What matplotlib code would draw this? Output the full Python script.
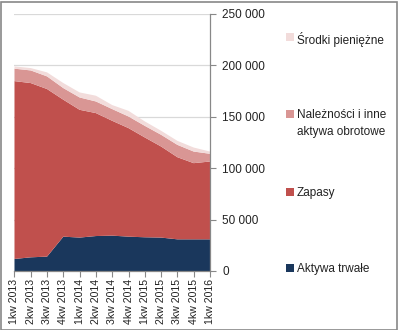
import matplotlib
matplotlib.use("Agg")
from matplotlib import pyplot as plt
from matplotlib.patches import Rectangle
import numpy as np

quarters = ["1kw 2013", "2kw 2013", "3kw 2013", "4kw 2013",
            "1kw 2014", "2kw 2014", "3kw 2014", "4kw 2014",
            "1kw 2015", "2kw 2015", "3kw 2015", "4kw 2015", "1kw 2016"]

# stacked layers (thousand PLN)
aktywa_trwale = [11.7, 13.3, 14.0, 33.4, 32.5, 34.0, 34.4, 33.4, 32.8, 32.5, 30.8, 30.8, 30.8]
zapasy = [173.0, 169.5, 163.0, 133.2, 124.3, 119.6, 111.7, 105.6, 97.1, 88.6, 79.9, 74.1, 75.7]
naleznosci = [12.1, 12.3, 12.3, 11.3, 12.0, 11.3, 11.4, 11.3, 11.3, 11.4, 12.0, 11.3, 7.5]
srodki = [2.2, 2.3, 3.9, 4.9, 4.9, 5.6, 3.9, 5.5, 4.3, 3.9, 3.9, 3.9, 2.2]

names = ["Aktywa trwałe", "Zapasy", "Należności i inne\naktywa obrotowe", "Środki pieniężne"]
colors = ["#1a375c", "#c0504d", "#d99694", "#f2dcdb"]

plt.rcParams["font.family"] = ["Liberation Sans", "DejaVu Sans"]

fig = plt.figure(figsize=(3.98, 3.30), dpi=100)
ax = fig.add_axes([0.0364, 0.1788, 0.4912, 0.7788])

x = np.arange(len(quarters))
series = [np.array(s) * 1000 for s in (aktywa_trwale, zapasy, naleznosci, srodki)]
ax.stackplot(x, *series, colors=colors, linewidth=0)

ax.set_xlim(0, len(quarters) - 1)
ax.set_ylim(0, 250000)
ax.set_yticks(np.arange(0, 250001, 50000))
ax.set_yticklabels([f"{v:,}".replace(",", " ") for v in range(0, 250001, 50000)],
                   fontsize=8.5, color="#222222")
ax.yaxis.tick_right()
ax.grid(axis="y", color="#d9d9d9", linewidth=0.9)
ax.set_axisbelow(True)

ax.set_xticks(x)
ax.set_xticklabels(quarters, rotation=90, fontsize=7.6, color="#222222")
ax.tick_params(axis="x", length=4, color="#888888", direction="out", pad=2)
ax.tick_params(axis="y", length=4, color="#888888", direction="out", pad=5)

for side in ("top", "left"):
    ax.spines[side].set_visible(False)
for side in ("right", "bottom"):
    ax.spines[side].set_color("#888888")
    ax.spines[side].set_linewidth(0.9)

# legend drawn by hand on the right side: (label, colour, y of first line in px)
legend_rows = [(names[3], colors[3], 37), (names[2], colors[2], 114),
               (names[1], colors[1], 192), (names[0], colors[0], 268)]
for label, col, ypx in legend_rows:
    yf = 1 - ypx / 330
    fig.patches.append(Rectangle((286 / 398, yf - 4 / 330), 8 / 398, 8 / 330,
                                 transform=fig.transFigure, facecolor=col,
                                 edgecolor="none"))
    fig.text(297 / 398, yf + 5 / 330, label, fontsize=8.5, va="top", ha="left",
             color="#222222", linespacing=1.5)

# outer frame
fig.patches.append(Rectangle((0.5 / 398, 0.5 / 330), 396 / 398, 328 / 330,
                             transform=fig.transFigure, fill=False,
                             edgecolor="#888888", linewidth=1.2))

fig.savefig("out.png", dpi=100)
